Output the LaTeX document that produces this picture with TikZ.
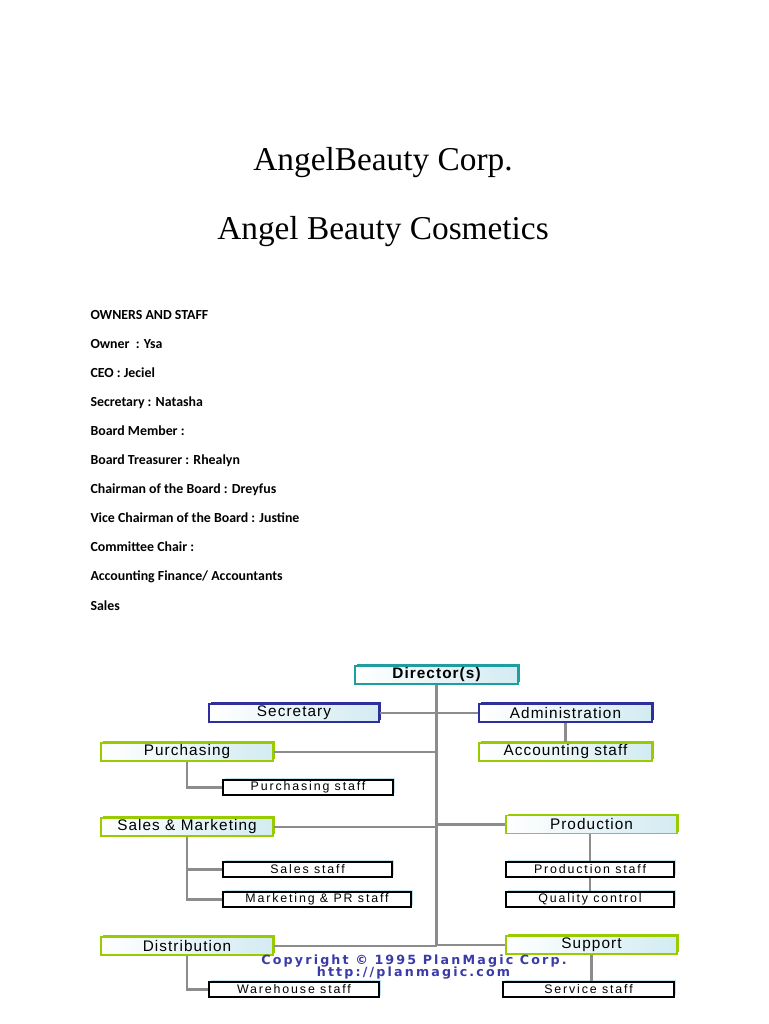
\documentclass[tikz,border=0pt]{standalone}
\usepackage{fontspec}
\setmainfont{Liberation Serif}
\newfontfamily\listfont{Carlito}
\newfontfamily\chartfont[LetterSpace=7]{Liberation Sans}
\newfontfamily\stafffont[LetterSpace=15]{Liberation Sans}
\newfontfamily\copyfont[LetterSpace=17]{DejaVu Sans}
\usepackage{tikz}
\usetikzlibrary{shadows}
\definecolor{dirteal}{HTML}{1E9E9E}
\definecolor{boxblue}{HTML}{2E2E9E}
\definecolor{boxgreen}{HTML}{99CC00}
\definecolor{staffblue}{HTML}{BFE3EC}
\definecolor{linegray}{HTML}{8C8C8C}
\definecolor{copyblue}{HTML}{3A3AA8}

\begin{document}
\begin{tikzpicture}[
    x=0.75pt, y=-0.75pt,
    line width=0.8pt,
    every node/.style={inner sep=0pt},
    boxw/.style={minimum width=#1*0.75pt},
    unitbox/.style={draw=#1, minimum height=13.5pt,
        left color=white, right color=staffblue!70,
        font=\chartfont\fontsize{11.5}{13}\selectfont,
        copy shadow={fill=#1, draw=none, shadow xshift=1.5pt, shadow yshift=1.5pt}},
    staffbox/.style={draw=black, fill=white, minimum height=11.25pt,
        font=\stafffont\fontsize{9.3}{10}\selectfont,
        copy shadow={fill=staffblue, draw=none, shadow xshift=1.5pt, shadow yshift=1.5pt}},
    link/.style={draw=linegray, line width=2pt}
]
\useasboundingbox (0,0) rectangle (768,1024);
%====================================================
% TITLE
%====================================================
\node[anchor=base, font=\fontsize{25}{30}\selectfont] (corp) at (383,170) {AngelBeauty Corp.};
\node[anchor=base, font=\fontsize{25}{30}\selectfont] (brand) at (383,239) {Angel Beauty Cosmetics};

%====================================================
% OWNERS AND STAFF
%====================================================
\foreach \txt [count=\i from 0] in {OWNERS AND STAFF, Owner~ : Ysa, CEO : Jeciel,
    Secretary : Natasha, Board Member :, Board Treasurer : Rhealyn,
    Chairman of the Board : Dreyfus, Vice Chairman of the Board : Justine,
    Committee Chair :, Accounting Finance/ Accountants, Sales}
{
    \node[anchor=base west, font=\listfont\bfseries\fontsize{10.4}{12}\selectfont]
        (list-\i) at (90,319+29.1*\i) {\txt};
}

%====================================================
% CHART
%====================================================
\node[unitbox=dirteal, boxw=163, font=\chartfont\bfseries\fontsize{11.5}{13}\selectfont] (dir) at (436.5,675) {Director(s)};
\node[unitbox=boxblue, boxw=170] (sec) at (294,713) {Secretary};
\node[unitbox=boxblue, boxw=173] (admin) at (565.5,713) {Administration};
\node[unitbox=boxgreen, boxw=173] (acct) at (565.5,752) {Accounting staff};
\node[unitbox=boxgreen, boxw=172] (purch) at (187,752) {Purchasing};
\node[staffbox, boxw=170] (pstaff) at (308,787.5) {Purchasing staff};
\node[unitbox=boxgreen, boxw=172] (sm) at (187,827) {Sales \& Marketing};
\node[staffbox, boxw=169] (sstaff) at (307.5,869.5) {Sales staff};
\node[staffbox, boxw=188] (mstaff) at (317,899.5) {Marketing \& PR staff};
\node[unitbox=boxgreen, boxw=171] (prod) at (591.5,824.5) {Production};
\node[staffbox, boxw=168] (prodstaff) at (590,869.5) {Production staff};
\node[staffbox, boxw=168] (qc) at (590,899.5) {Quality control};
\node[unitbox=boxgreen, boxw=172] (dist) at (187,946) {Distribution};
\node[staffbox, boxw=170] (whstaff) at (294,989.5) {Warehouse staff};
\node[unitbox=boxgreen, boxw=171] (supp) at (591.5,945) {Support};
\node[staffbox, boxw=171] (svc) at (588.5,989.5) {Service staff};

% trunk and branches
\draw[link] (dir.south) -- (dir.south |- dist.east);
\draw[link] (sec.east) -- (admin.west);
\draw[link] (purch.east) -- (purch.east -| dir.south);
\draw[link] (sm.east) -- (sm.east -| dir.south);
\draw[link] (prod.west) -- (prod.west -| dir.south);
\draw[link] (dist.east) -- (dist.east -| dir.south);
\draw[link] (supp.west) -- (supp.west -| dir.south);

% sub units
\draw[link] (admin.south) -- (acct.north);
\draw[link] (purch.south) |- (pstaff.west);
\draw[link] (sm.south) |- (mstaff.west);
\draw[link] (sm.south |- sstaff.west) -- (sstaff.west);
\draw[link] (prodstaff.north) -- (prodstaff.north |- prod.south);
\draw[link] (prodstaff.south) -- (qc.north);
\draw[link] (dist.south) |- (whstaff.west);
\draw[link] (supp.south) -- (supp.south |- svc.north);

%====================================================
% COPYRIGHT
%====================================================
\node[font=\copyfont\bfseries\fontsize{9.5}{10}\selectfont, text=copyblue] (copy1) at (414,961) {Copyright \textcopyright{} 1995 PlanMagic Corp.};
\node[font=\copyfont\bfseries\fontsize{9.5}{10}\selectfont, text=copyblue] (copy2) at (413.5,973) {http://planmagic.com};
\end{tikzpicture}
\end{document}
